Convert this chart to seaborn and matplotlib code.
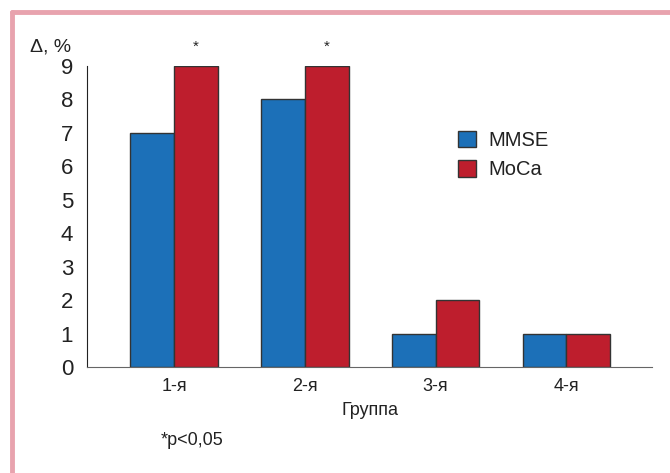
import pandas as pd
import numpy as np
import matplotlib.pyplot as plt
import seaborn as sns
from matplotlib.lines import Line2D

groups = ['1-я', '2-я', '3-я', '4-я']
mmse = [7, 8, 1, 1]
moca = [9, 9, 2, 1]
signif = [True, True, False, False]

df = pd.DataFrame({
    'group': groups * 2,
    'value': mmse + moca,
    'test': ['MMSE'] * 4 + ['MoCa'] * 4,
})

sns.set_style('white')
plt.rcParams['font.family'] = ['Liberation Sans', 'DejaVu Sans']

fig = plt.figure(figsize=(6.7, 4.73), dpi=100)
ax = fig.add_axes([0.1299, 0.2241, 0.8433, 0.6364])

sns.barplot(data=df, x='group', y='value', hue='test', order=groups,
            palette=['#1c70b8', '#be1e2d'], saturation=1, width=0.67, gap=0,
            edgecolor='#333333', linewidth=1, ax=ax)

ax.set_ylim(0, 9)
ax.set_xlim(-0.665, 3.655)
ax.set_yticks(range(10))
ax.tick_params(axis='y', length=4, width=1, color='#222222', labelsize=16, pad=6,
               labelcolor='#222222')
ax.tick_params(axis='x', length=0, labelsize=13, pad=8, colors='#222222')
ax.set_xticks([3.655], minor=True)
ax.tick_params(axis='x', which='minor', length=4, width=1, color='#555555')
for s in ['top', 'right']:
    ax.spines[s].set_visible(False)
ax.spines['left'].set_color('#222222')
ax.spines['bottom'].set_color('#666666')
ax.set_ylabel('')
ax.set_xlabel('Группа', fontsize=13, color='#222222', labelpad=5)

# asterisks over the MoCa bars
for bar, s in zip(ax.containers[1], signif):
    if s:
        ax.text(bar.get_x() + bar.get_width() / 2, 9.35, '*', ha='center', va='bottom',
                fontsize=11, color='#222222', clip_on=False)

leg = ax.legend(loc='upper left', bbox_to_anchor=(0.625, 0.845), frameon=False,
                fontsize=14.5, handlelength=0.9, handleheight=0.9, handletextpad=0.6,
                labelspacing=0.5)
for t in leg.get_texts():
    t.set_color('#222222')

fig.text(0.045, 0.9, 'Δ, %', fontsize=14, color='#222222', va='center')
fig.text(0.24, 0.068, '*p<0,05', fontsize=13, color='#222222', va='center')

# pink frame
pink = '#e8a3ae'
fig.add_artist(Line2D([0.018, 1.0], [0.975, 0.975], color=pink, lw=3.5))
fig.add_artist(Line2D([0.018, 0.018], [0.0, 0.975], color=pink, lw=3.5))

fig.savefig('out.png', dpi=100)
